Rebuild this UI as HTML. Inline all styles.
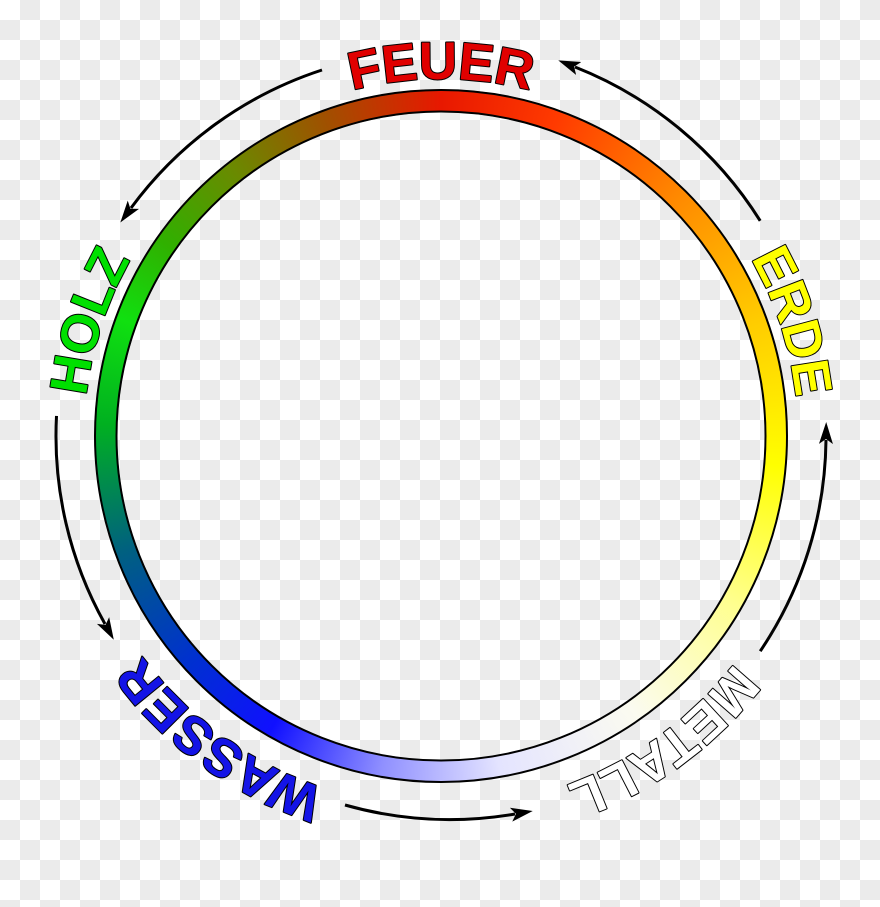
<!DOCTYPE html>
<html><head><meta charset="utf-8"><style>
html,body{margin:0;padding:0}
body{width:880px;height:907px;position:relative;overflow:hidden;
background:repeating-conic-gradient(#ebebeb 0 25%,#fff 0 50%) 0 0/40px 40px;}
#ring{position:absolute;left:94px;top:89px;width:694px;height:694px;border-radius:50%;
background:conic-gradient(from 0deg,#e81800 0deg,#ff3a00 20deg,#ff8a00 45deg,#ffcc00 70deg,#ffff00 95deg,#ffff90 120deg,#fbfbf0 145deg,#e4e4ff 170deg,#9090ff 190deg,#1010ff 210deg,#0030d0 228deg,#006080 250deg,#00b020 272deg,#10e010 290deg,#30b000 305deg,#6a8a00 322deg,#a05000 340deg,#e81800 360deg);
-webkit-mask:radial-gradient(circle at center,transparent 323.5px,#000 324px,#000 346.5px,transparent 347px);
mask:radial-gradient(circle at center,transparent 323.5px,#000 324px,#000 346.5px,transparent 347px);}
svg{position:absolute;left:0;top:0}
text{font-family:"Liberation Sans",sans-serif;font-weight:bold;font-size:53px;stroke:#000;stroke-width:2px;paint-order:stroke;stroke-linejoin:round}
</style></head><body>
<div id="ring"></div>
<svg width="880" height="907" viewBox="0 0 880 907">
<defs>
<path id="c" d="M441,793 A357,357 0 1 1 441,79 A357,357 0 1 1 441,793"/>
<path id="b" d="M441,807 A371,371 0 1 1 441,65 A371,371 0 1 1 441,807"/>
<marker id="a" markerUnits="userSpaceOnUse" markerWidth="24" markerHeight="20" refX="4" refY="10" orient="auto">
<path d="M0,3 L22,10 L0,17 L5,10 Z" fill="#000"/>
</marker>
</defs>
<circle cx="441" cy="436" r="346" fill="none" stroke="#000" stroke-width="2"/>
<circle cx="441" cy="436" r="324.5" fill="none" stroke="#000" stroke-width="2"/>
<g fill="none" stroke="#000" stroke-width="3" marker-end="url(#a)">
<path d="M322,70 A385,385 0 0 0 131,208"/>
<path d="M760.2,220.8 A385,385 0 0 0 575,67"/>
<path d="M760.2,651.2 A385,385 0 0 0 826,440"/>
<path d="M345,805 A385,385 0 0 0 515,814"/>
<path d="M56.5,415.9 A385,385 0 0 0 105,624"/>
</g>
<text fill="#e00000"><textPath href="#c" startOffset="50%" text-anchor="middle">FEUER</textPath></text>
<text fill="#ffff00"><textPath href="#c" startOffset="70%" text-anchor="middle">ERDE</textPath></text>
<text fill="#ffffff"><textPath href="#b" startOffset="90%" text-anchor="middle">METALL</textPath></text>
<text fill="#1414e6"><textPath href="#b" startOffset="10%" text-anchor="middle">WASSER</textPath></text>
<text fill="#00e000"><textPath href="#c" startOffset="30%" text-anchor="middle">HOLZ</textPath></text>
</svg>
</body></html>
